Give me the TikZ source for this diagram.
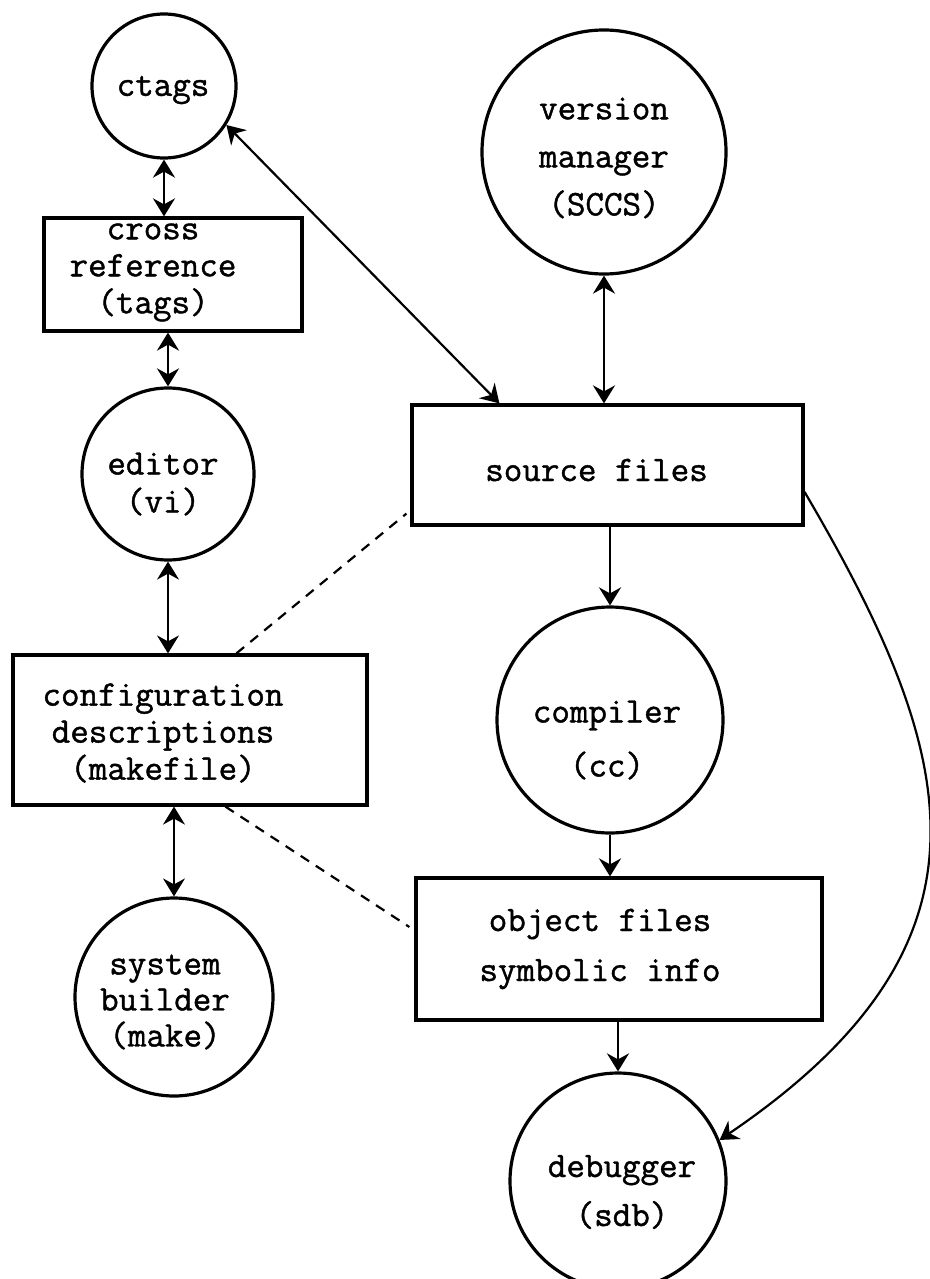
\documentclass[tikz,border=0pt]{standalone}
\usepackage{fontspec}
\newfontfamily\diagfont[FakeBold=1.2]{Latin Modern Mono}
\usetikzlibrary{arrows.meta,calc}
\begin{document}
\begin{tikzpicture}[x=1pt,y=-1pt,
  >={Stealth[length=18pt,width=22pt,inset=6pt]},
  circ/.style={draw, circle, line width=3.2pt, inner sep=0pt},
  box/.style={draw, rectangle, line width=3.2pt, inner sep=0pt},
  txt/.style={align=center, font=\fontsize{36}{#1}\selectfont\diagfont},
  link/.style={line width=2.6pt},
  thinlink/.style={line width=1.7pt},
  dashlink/.style={line width=2.2pt, dash pattern=on 10pt off 8pt}]

\fill[white] (0,0) rectangle (929,1279);
\useasboundingbox (0,0) rectangle (929,1279);

% tools and files
\node[circ, minimum size=144pt,
  label={[txt=37, xshift=-1pt, yshift=-4pt]center:ctags}] (ctags) at (164,86) {};
\node[circ, minimum size=244pt,
  label={[txt=48, yshift=-6pt]center:version\\manager\\(SCCS)}] (vm) at (604,152) {};
\node[box, minimum width=258pt, minimum height=113pt,
  label={[txt=37, xshift=-20pt, yshift=2pt]center:cross\\reference\\(tags)}] (xref) at (173,274.5) {};
\node[circ, minimum size=172pt,
  label={[txt=38, xshift=-5pt, yshift=-10pt]center:editor\\(vi)}] (editor) at (168,474) {};
\node[box, minimum width=391pt, minimum height=120pt,
  label={[txt=37, xshift=-11pt, yshift=-5pt]center:source files}] (src) at (607.5,465) {};
\node[box, minimum width=354pt, minimum height=150pt,
  label={[txt=37, xshift=-27pt, yshift=-3pt]center:configuration\\descriptions\\(makefile)}] (cfg) at (190,730) {};
\node[circ, minimum size=226pt,
  label={[txt=54, xshift=-3pt, yshift=-20pt]center:compiler\\(cc)}] (comp) at (610,720) {};
\node[circ, minimum size=198pt,
  label={[txt=36, xshift=-9pt, yshift=-5pt]center:system\\builder\\(make)}] (sys) at (174,997) {};
\node[box, minimum width=406pt, minimum height=142pt,
  label={[txt=50, xshift=-19pt]center:object files\\symbolic info}] (obj) at (619,949) {};
\node[circ, minimum size=216pt,
  label={[txt=49, xshift=4pt, yshift=-11pt]center:debugger\\(sdb)}] (dbg) at (618,1181) {};

% two-way links
\draw[link, <->] (ctags.south) -- (ctags.south |- xref.north);
\draw[link, <->] (editor.north |- xref.south) -- (editor.north);
\draw[thinlink, <->] (editor.south) -- (editor.south |- cfg.north);
\draw[thinlink, <->] (sys.north |- cfg.south) -- (sys.north);
\draw[link, line width=2.2pt, <->] (ctags.-32) -- ($(src.north west)+(89,0)$);
\draw[link, <->] (vm.south) -- (vm.south |- src.north);

% build and debug flow
\draw[link, ->] (comp.north |- src.south) -- (comp.north);
\draw[link, ->] (comp.south) -- (comp.south |- obj.north);
\draw[link, ->] (dbg.north |- obj.south) -- (dbg.north);
\draw[link, line width=2.2pt, ->] ($(src.east)+(0,27)$) .. controls (959,755) and (1011,942) .. (dbg.22);

% dependencies described by the makefile
\draw[dashlink] ($(cfg.north west)+(225,0)$) -- ($(src.south west)+(-4,-13)$);
\draw[dashlink] ($(cfg.south west)+(214,0)$) -- ($(obj.west)+(-5,-22)$);
\end{tikzpicture}
\end{document}
